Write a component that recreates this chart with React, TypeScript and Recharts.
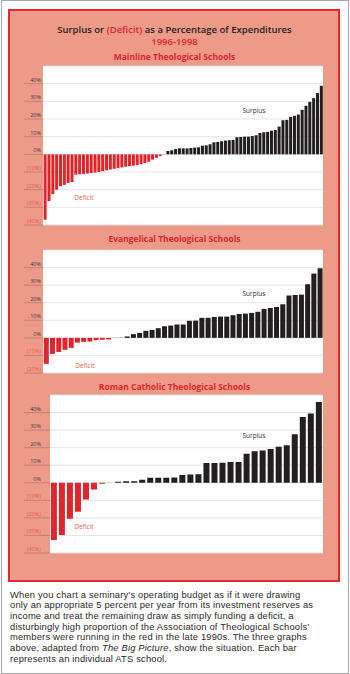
import React from "react"
import { BarChart, Bar, XAxis, YAxis, CartesianGrid, Cell } from "recharts"

// one value per school, % surplus (deficit) of expenditures, sorted
const mainline = [
  -37, -26.5, -22.5, -20, -18, -17.3, -16.2, -15.7, -11.5, -11.3, -11.1, -10.9, -10.6, -10.3,
  -10, -9.5, -9, -8.6, -8.2, -7.8, -7.4, -7, -6.7, -6.4, -6.1, -5.6, -5, -4.2, -3, -2, -1,
  0.2,
  1.9, 2.3, 3, 3.4, 3.4, 3.4, 3.6, 3.8, 4, 4.9, 5.1, 5.7, 6.8, 7, 7.4, 7.8, 8, 8.1, 9.7, 9.8,
  10, 10, 10.4, 10.8, 12.1, 12.5, 12.7, 13.4, 13.8, 15.7, 19.3, 19.5, 21.2, 21.8, 22.5, 25.2,
  27.5, 29.7, 31.8, 34.7, 38.8,
]
const evangelical = [
  -14.8, -9.1, -8, -6.8, -5.7, -2.7, -2.3, -2.1, -1.3, -1.1, -0.9,
  0.2, 0.3,
  0.8, 2.1, 2.8, 4, 4.5, 5.5, 6.6, 7, 7.6, 7.6, 9.7, 9.8, 11.4, 11.4, 11.9, 12.1, 12.1, 12.9,
  13.6, 13.8, 14.2, 14.8, 16.5, 17, 17.6, 19.1, 24.1, 24.4, 24.6, 30.5, 36.6, 39.6,
]
const catholic = [
  -32.6, -29.7, -20.5, -16.5, -9.5, -3.8, -0.6,
  0.2,
  0.6, 0.9, 0.9, 1.7, 2.8, 2.8, 2.8, 3, 4.5, 4.7, 4.9, 11.2, 11.2, 11.4, 11.9, 11.9, 16.5,
  18, 18.4, 19.3, 20.5, 21.4, 27.7, 37.5, 39.4, 46,
]

const ticksFull = [-40, -30, -20, -10, 0, 10, 20, 30, 40]
const ticksShort = [-20, -10, 0, 10, 20, 30, 40]

const paragraph = [
  "When you chart a seminary\u2019s operating budget as if it were drawing",
  "only an appropriate 5 percent per year from its investment reserves as",
  "income and treat the remaining draw as simply funding a deficit, a",
  "disturbingly high proportion of the Association of Theological Schools\u2019",
  "members were running in the red in the late 1990s. The three graphs",
  "above, adapted from |The Big Picture|, show the situation. Each bar",
  "represents an individual ATS school.",
]

const RED = "#E3242B"
const SOFT_RED = "#EA5A4E"
const BLACK = "#231F20"
const PINK = "#EE9A89"
const FONT = "'Open Sans', 'Noto Sans', sans-serif"
const BODY_FONT = "'Liberation Sans', Arial, sans-serif"

const fmt = (v: number) => (v < 0 ? `(${-v}%)` : `${v}%`)

function PctTick(props: any) {
  const { y, payload, plotLeft } = props
  const v = payload.value
  return (
    <g>
      <line x1={24} x2={plotLeft} y1={y} y2={y} stroke="rgba(110,80,75,0.4)" strokeWidth={0.8} />
      <text
        x={41}
        y={y - 2}
        textAnchor="end"
        fontSize={5.5}
        fontFamily={FONT}
        fill={v < 0 ? SOFT_RED : "#3a3a3a"}
      >
        {fmt(v)}
      </text>
    </g>
  )
}

interface ChartProps {
  values: number[]
  ticks: number[]
  domain: [number, number]
  top: number
  height: number
  plotLeft: number
  plotTop: number
  plotBottom: number
  gap: string
}

function SchoolChart({ values, ticks, domain, top, height, plotLeft, plotTop, plotBottom, gap }: ChartProps) {
  const data = values.map((v, i) => ({ i, v }))
  return (
    <div style={{ position: "absolute", left: 0, top }}>
      <BarChart
        width={350}
        height={height}
        data={data}
        margin={{ top: plotTop - top, bottom: top + height - plotBottom, left: plotLeft - 30, right: 27 }}
        barCategoryGap={gap}
      >
        <CartesianGrid vertical={false} fill="#ffffff" stroke="#dedede" strokeWidth={0.8} />
        <XAxis dataKey="i" hide />
        <YAxis
          type="number"
          domain={domain}
          ticks={ticks}
          interval={0}
          width={30}
          axisLine={false}
          tickLine={false}
          allowDataOverflow
          tick={(p: any) => <PctTick {...p} plotLeft={plotLeft} />}
        />
        <Bar dataKey="v" isAnimationActive={false}>
          {data.map((d) => (
            <Cell key={d.i} fill={Math.abs(d.v) < 0.5 ? "#9a9a9a" : d.v < 0 ? RED : BLACK} />
          ))}
        </Bar>
      </BarChart>
    </div>
  )
}

function Note({ x, y, text, color }: { x: number; y: number; text: string; color: string }) {
  return (
    <div
      style={{
        position: "absolute",
        left: x - 30,
        width: 60,
        top: y - 5,
        lineHeight: "10px",
        fontSize: 6.5,
        textAlign: "center",
        color,
        fontFamily: FONT,
      }}
    >
      {text}
    </div>
  )
}

function Heading({ y, text, size, color, weight }: { y: number; text: React.ReactNode; size: number; color: string; weight: number }) {
  return (
    <div
      style={{
        position: "absolute",
        left: 0,
        width: 349,
        top: y - 6,
        lineHeight: "12px",
        fontSize: size,
        fontWeight: weight,
        textAlign: "center",
        color,
        fontFamily: FONT,
        whiteSpace: "nowrap",
      }}
    >
      {text}
    </div>
  )
}

export default function App() {
  return (
    <div
      style={{
        position: "fixed",
        left: 0,
        top: 0,
        width: 350,
        height: 674,
        background: "#ffffff",
        overflow: "hidden",
      }}
    >
      <div
        style={{
          position: "absolute",
          left: 1,
          top: 0,
          width: 346,
          height: 672,
          border: "1px solid #a8a8a8",
        }}
      />
      <div
        style={{
          position: "absolute",
          left: 8,
          top: 9,
          width: 328,
          height: 569,
          border: "2px solid #E52A2F",
          background: PINK,
        }}
      />

      <Heading
        y={29.5}
        size={9.5}
        weight={600}
        color={BLACK}
        text={
          <>
            Surplus or <span style={{ color: RED }}>(Deficit)</span> as a Percentage of Expenditures
          </>
        }
      />
      <Heading y={42} size={9.5} weight={600} color={RED} text="1996-1998" />

      <Heading y={57} size={8.5} weight={700} color={RED} text="Mainline Theological Schools" />
      <SchoolChart
        values={mainline}
        ticks={ticksFull}
        domain={[-40, 50]}
        top={60}
        height={175}
        plotLeft={43}
        plotTop={66}
        plotBottom={225}
        gap="17%"
      />
      <Note x={254} y={111} text="Surplus" color="#333333" />
      <Note x={84} y={198} text="Deficit" color={SOFT_RED} />

      <Heading y={239} size={8.5} weight={700} color={RED} text="Evangelical Theological Schools" />
      <SchoolChart
        values={evangelical}
        ticks={ticksShort}
        domain={[-20, 50]}
        top={242}
        height={140}
        plotLeft={43}
        plotTop={250}
        plotBottom={373}
        gap="13%"
      />
      <Note x={254} y={294} text="Surplus" color="#333333" />
      <Note x={85} y={366} text="Deficit" color={SOFT_RED} />

      <Heading y={387} size={8.5} weight={700} color={RED} text="Roman Catholic Theological Schools" />
      <SchoolChart
        values={catholic}
        ticks={ticksFull}
        domain={[-40, 50]}
        top={390}
        height={172}
        plotLeft={50}
        plotTop={395}
        plotBottom={553}
        gap="11%"
      />
      <Note x={254} y={436} text="Surplus" color="#333333" />
      <Note x={84} y={527} text="Deficit" color={SOFT_RED} />

      <div
        style={{
          position: "absolute",
          left: 10,
          top: 589.5,
          fontSize: 9.4,
          letterSpacing: 0.17,
          lineHeight: "10.7px",
          color: "#2a2a2a",
          fontFamily: BODY_FONT,
          whiteSpace: "nowrap",
        }}
      >
        {paragraph.map((line, k) => (
          <div key={k}>
            {line.split("|").map((part, j) => (j % 2 === 1 ? <i key={j}>{part}</i> : <span key={j}>{part}</span>))}
          </div>
        ))}
      </div>
    </div>
  )
}
